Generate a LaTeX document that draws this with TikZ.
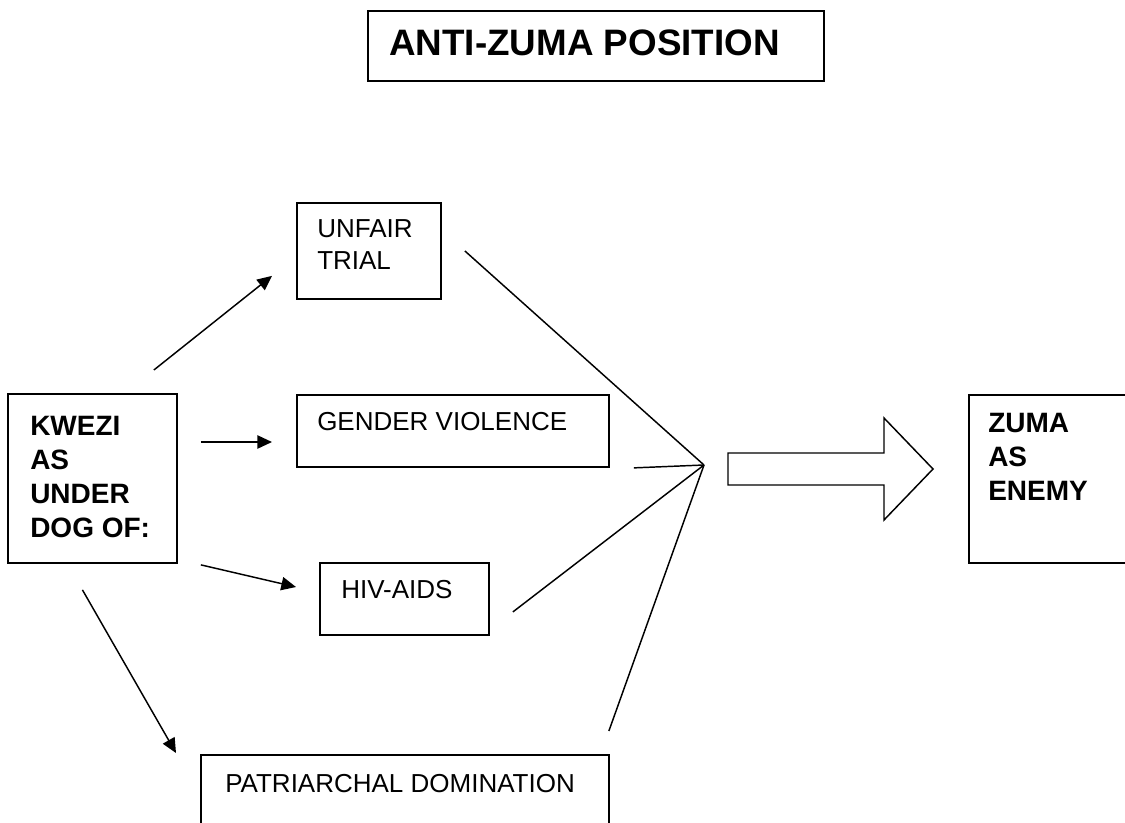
\documentclass[tikz,border=0pt]{standalone}
\usepackage{fontspec}
\setmainfont{Liberation Sans}
\usetikzlibrary{arrows.meta}

\tikzset{
  frame/.style={draw, line width=1.4pt, anchor=north west, inner sep=0pt},
  txt/.style={anchor=base west, inner sep=0pt, align=left, font=\fontsize{19.5}{23.5}\selectfont},
  btxt/.style={anchor=base west, inner sep=0pt, align=left, font=\fontsize{21}{25.5}\selectfont\bfseries},
  arr/.style={line width=1.1pt, -{Triangle[length=11pt,width=10pt]}},
  lin/.style={line width=1.1pt}
}

\begin{document}
\begin{tikzpicture}[x=0.75pt, y=-0.75pt]

    \useasboundingbox (0,0) rectangle (1125,822);
    \clip (0,0) rectangle (1125,822);

    %Titel
    \node[frame, minimum width=342pt, minimum height=52.5pt] (titlebox) at (367,10) {};
    \node[btxt, font=\fontsize{27.6}{32}\selectfont\bfseries] (title) at (389,55) {ANTI-ZUMA POSITION};

    %Kasten links (Grundlinie der letzten Zeile)
    \node[frame, minimum width=126.75pt, minimum height=126.75pt] (kwezi) at (7,393) {};
    \node[btxt] (kwezitxt) at (30,537) {KWEZI\\AS\\UNDER\\DOG OF:};

    %mittlere Kaesten
    \node[frame, minimum width=108pt, minimum height=72pt] (unfair) at (296,202) {};
    \node[txt] (unfairtxt) at (317,269) {UNFAIR\\TRIAL};

    \node[frame, minimum width=234pt, minimum height=54pt] (gender) at (296,394) {};
    \node[txt] (gendertxt) at (317,430) {GENDER VIOLENCE};

    \node[frame, minimum width=126.75pt, minimum height=54pt] (hiv) at (319,562) {};
    \node[txt] (hivtxt) at (341,598) {HIV-AIDS};

    \node[frame, minimum width=306pt, minimum height=70pt] (patr) at (200,754) {};
    \node[txt] (patrtxt) at (225,792) {PATRIARCHAL DOMINATION};

    %Kasten rechts
    \node[frame, minimum width=132pt, minimum height=126pt] (zuma) at (968,394) {};
    \node[btxt] (zumatxt) at (988,500) {ZUMA\\AS\\ENEMY};

    %Pfeile
    \draw[arr] ([shift={(-24,-23)}]kwezi.north east) -- ([shift={(-24,-24)}]unfair.south west);
    \draw[arr] ([shift={(23,49)}]kwezi.north east) -- ([shift={(-24,48)}]gender.north west);
    \draw[arr] ([shift={(23,1)}]kwezi.south east) -- ([shift={(-23,25)}]hiv.north west);
    \draw[arr] ([shift={(-10,26)}]kwezi.south) -- ([shift={(-24,-1)}]patr.north west);

    %Linien zum Knoten
    \coordinate (hub) at (704,465);
    \draw[lin] ([shift={(23,0)}]unfair.east) -- (hub);
    \draw[lin] ([shift={(24,0)}]gender.south east) -- (hub);
    \draw[lin] ([shift={(23,13)}]hiv.east) -- (hub);
    \draw[lin] ([shift={(-1,-23)}]patr.north east) -- (hub);

    %Blockpfeil
    \draw[lin] (728,453) -- (884,453) -- (884,418) -- (933,469) -- (884,520) -- (884,485) -- (728,485) -- cycle;

\end{tikzpicture}
\end{document}
